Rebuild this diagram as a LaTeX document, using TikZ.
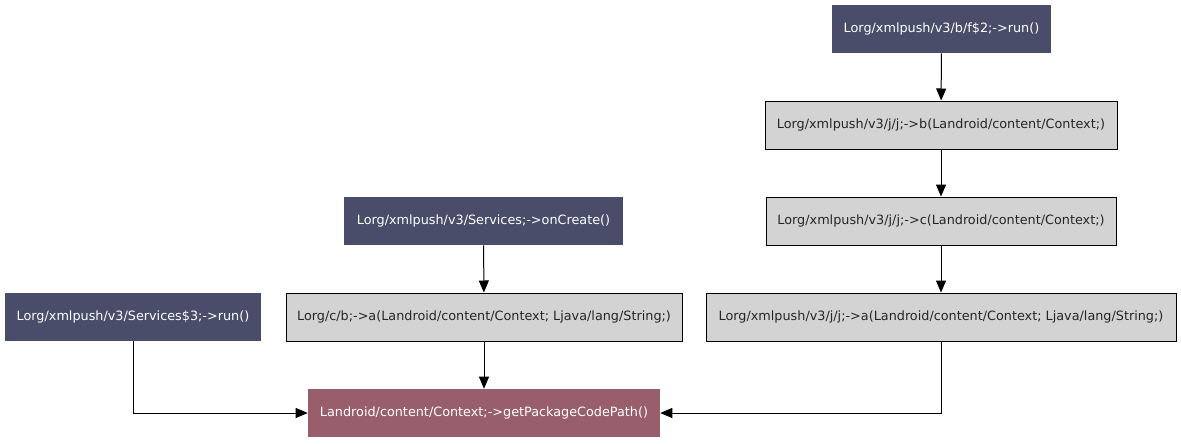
\documentclass[tikz,border=0pt]{standalone}
\usepackage{fontspec}
\setmainfont{DejaVu Sans}
\usetikzlibrary{arrows.meta, positioning}
\definecolor{calleeblue}{RGB}{73, 77, 106}
\definecolor{targetred}{RGB}{152, 94, 108}
\definecolor{midgray}{RGB}{211, 211, 211}
\tikzset{
  entrybox/.style={rectangle, fill=calleeblue, text=white, align=center,
              minimum width=#1, minimum height=36pt, inner sep=0pt},
  entrybox/.default=160pt,
  callbox/.style={rectangle, draw=black, line width=0.75pt, fill=midgray,
              text=black!85, align=center, minimum width=#1,
              minimum height=36pt, inner sep=0pt},
  callbox/.default=260pt,
  sinkbox/.style={rectangle, fill=targetred, text=white, align=center,
              minimum width=#1, minimum height=36pt, inner sep=0pt},
  sinkbox/.default=260pt,
  arrow/.style={-{Triangle[length=9pt, width=7.5pt]}, line width=0.75pt},
}
\begin{document}
\begin{tikzpicture}[x=0.75pt, y=-0.75pt, font=\fontsize{9.6}{11}\selectfont]
  \useasboundingbox (0,0) rectangle (1181,443);
  % Entry points
  \node[entrybox=164.25pt] (fRun) at (941.5,29) {Lorg/xmlpush/v3/b/f\$2;->run()};
  \node[entrybox=209.25pt] (onCreate) at (483.5,221) {Lorg/xmlpush/v3/Services;->onCreate()};
  \node[entrybox=192pt] (sRun) at (133,317) {Lorg/xmlpush/v3/Services\$3;->run()};
  % Intermediate calls
  \node[callbox=264pt] (jB) at (941,125) {Lorg/xmlpush/v3/j/j;->b(Landroid/content/Context;)};
  \node[callbox=262.5pt] (jC) at (941,221) {Lorg/xmlpush/v3/j/j;->c(Landroid/content/Context;)};
  \node[callbox=352.5pt] (jA) at (941,317) {Lorg/xmlpush/v3/j/j;->a(Landroid/content/Context; Ljava/lang/String;)};
  \node[callbox=297pt] (cbA) at (484,317) {Lorg/c/b;->a(Landroid/content/Context; Ljava/lang/String;)};
  % Sink
  \node[sinkbox=264pt] (codePath) at (484,413) {Landroid/content/Context;->getPackageCodePath()};
  % Edges
  \draw[arrow] (fRun) -- (jB);
  \draw[arrow] (jB) -- (jC);
  \draw[arrow] (jC) -- (jA);
  \draw[arrow] (onCreate) -- (cbA);
  \draw[arrow] (cbA) -- (codePath);
  \draw[arrow] (sRun.south) |- (codePath.west);
  \draw[arrow] (jA.south) |- (codePath.east);
\end{tikzpicture}
\end{document}
